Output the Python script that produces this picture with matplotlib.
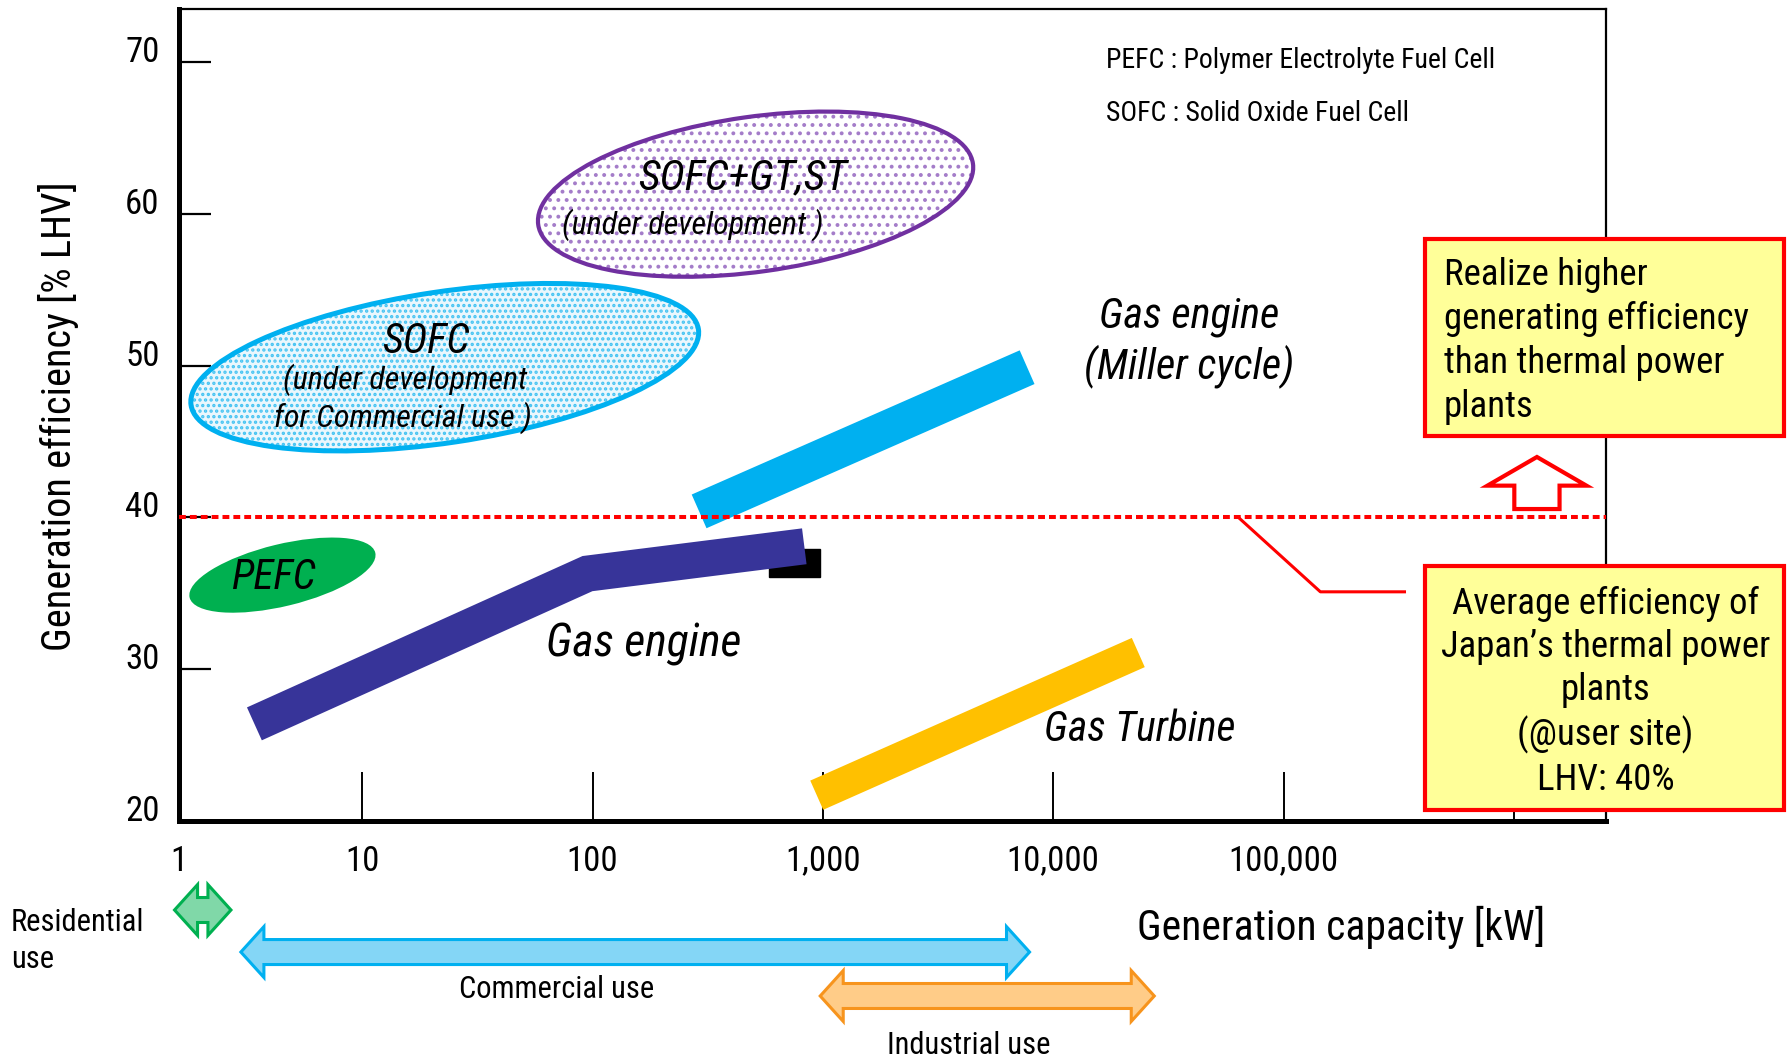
import numpy as np
import matplotlib
matplotlib.use("Agg")
import matplotlib.pyplot as plt
from matplotlib import transforms, font_manager
from matplotlib.patches import Ellipse, Rectangle, Polygon, FancyArrow
from matplotlib.ticker import FixedLocator, FixedFormatter, NullLocator

# look for a narrow sans face (the original uses Arial Narrow)
entries = font_manager.fontManager.ttflist
names = {f.name for f in entries}
family, stretch, narrow_ok = "Liberation Sans", "normal", False
for cand in ["Liberation Sans Narrow", "Arial Narrow", "Roboto Condensed",
             "Open Sans Condensed", "Noto Sans Condensed"]:
    if cand in names:
        family, narrow_ok = cand, True
        break
if not narrow_ok:
    for cand in ["Roboto", "Noto Sans", "Open Sans", "Liberation Sans", "DejaVu Sans"]:
        cond = [f for f in entries if f.name == cand and
                str(f.stretch) in ("condensed", "semi-condensed", "extra-condensed")]
        if cond:
            family, stretch, narrow_ok = cand, str(cond[0].stretch), True
            break
plt.rcParams["font.family"] = [family, "DejaVu Sans"]
plt.rcParams["font.stretch"] = stretch
plt.rcParams["hatch.linewidth"] = 1.6
k = 1.0 if narrow_ok else 0.86   # shrink sizes when only a normal-width face exists

# ---- data ----
x_min, x_max = 1.6, 10 ** 6.4          # generation capacity [kW]
y_min, y_max = 20, 73.5                # efficiency [% LHV]
x_ticks = [x_min, 10, 100, 1000, 10000, 100000, 1000000]
x_labels = ["1", "10", "100", "1,000", "10,000", "100,000", ""]
y_ticks = [20, 30, 40, 50, 60, 70]

gas_engine_kw = [3.4, 95, 830]
gas_engine_eff = [26.4, 36.3, 38.1]
miller_kw = [290, 7700]
miller_eff = [40.4, 49.9]
turbine_kw = [940, 23400]
turbine_eff = [21.7, 31.1]
tab_kw = [583, 973]          # black block at the end of the gas engine band
tab_eff = [36.1, 37.9]

fc_names = ["PEFC", "SOFC", "SOFC+GT,ST"]
fc_kw = [4.5, 22.8, 510]
fc_eff = [36.2, 49.9, 61.3]

thermal_avg = 40             # average efficiency of Japan's thermal plants
callout_kw = [63700, 144500, 335000]
callout_eff = [40, 35.1, 35.1]

uses = ["Residential\nuse", "Commercial use", "Industrial use"]
use_lo = [1.53, 2.97, 973]
use_hi = [2.69, 7890, 27460]

# ---- figure ----
fig = plt.figure(figsize=(17.88, 10.59), dpi=100)
ax = fig.add_axes([179 / 1788, 238 / 1059, 1427 / 1788, 812 / 1059])
ax.set_xscale("log")
ax.set_xlim(x_min, x_max)
ax.set_ylim(y_min, y_max)

ax.xaxis.set_major_locator(FixedLocator(x_ticks))
ax.xaxis.set_major_formatter(FixedFormatter(x_labels))
ax.xaxis.set_minor_locator(NullLocator())
ax.set_yticks(y_ticks)
ax.set_yticklabels([str(v) for v in y_ticks])
ax.tick_params(axis="x", direction="in", length=35, width=1.4, pad=17, labelsize=25 * k)
ax.tick_params(axis="y", direction="in", length=23, width=1.6, pad=14, labelsize=25 * k)
for lab in ax.get_yticklabels():
    lab.set_verticalalignment("baseline")

for side in ["left", "bottom"]:
    ax.spines[side].set_linewidth(3.6)
for side in ["top", "right"]:
    ax.spines[side].set_linewidth(1.6)

ax.set_xlabel("Generation capacity [kW]", fontsize=30 * k)
ax.xaxis.set_label_coords(0.8143, -0.1305)
ax.xaxis.label.set_va("center")
ax.set_ylabel("Generation efficiency [% LHV]", fontsize=29 * k)
ax.yaxis.set_label_coords(-0.0845, 0.4988)
ax.yaxis.label.set_va("center")

# ---- bands ----
band = dict(solid_capstyle="butt", solid_joinstyle="miter", zorder=3)
ax.add_patch(Rectangle((tab_kw[0], tab_eff[0]), tab_kw[1] - tab_kw[0],
                       tab_eff[1] - tab_eff[0], color="black", zorder=2.5))
ax.plot(gas_engine_kw, gas_engine_eff, color="#373499", lw=26, **band)
ax.plot(miller_kw, miller_eff, color="#00B0F0", lw=26.5, **band)
ax.plot(turbine_kw, turbine_eff, color="#FFC000", lw=23, **band)


# ellipses: centre in data coords, size in pixels
def px_ellipse(x, y, w, h, angle, **kw):
    tr = fig.dpi_scale_trans + transforms.ScaledTranslation(x, y, ax.transData)
    e = Ellipse((0, 0), w / fig.dpi, h / fig.dpi, angle=angle, transform=tr, **kw)
    ax.add_patch(e)


px_ellipse(fc_kw[0], fc_eff[0], 191, 62, 13.6, facecolor="#00B050", edgecolor="none", zorder=2)
px_ellipse(fc_kw[1], fc_eff[1], 513, 151, 8.5, facecolor="#EAF7FD", edgecolor="#45C3F2",
           lw=0, hatch="...", zorder=2)
px_ellipse(fc_kw[1], fc_eff[1], 513, 151, 8.5, facecolor="none", edgecolor="#00B0F0",
           lw=3.6, zorder=2.2)
px_ellipse(fc_kw[2], fc_eff[2], 439, 155, 8, facecolor="white", edgecolor="#A47CC9",
           lw=0, hatch="..", zorder=2)
px_ellipse(fc_kw[2], fc_eff[2], 439, 155, 8, facecolor="none", edgecolor="#7030A0",
           lw=3, zorder=2.2)

# ---- labels ----
it = dict(style="italic", ha="center", va="center", zorder=6)
ax.text(450, 62.39, "SOFC+GT,ST", fontsize=31 * k, **it)
ax.text(273, 59.29, "(under development )", fontsize=23 * k, **it)
ax.text(18.9, 51.58, "SOFC", fontsize=30 * k, **it)
ax.text(15.3, 49.07, "(under development", fontsize=23 * k, **it)
ax.text(15.0, 46.57, "for Commercial use )", fontsize=23 * k, **it)
ax.text(4.09, 36.02, "PEFC", fontsize=30 * k, **it)
ax.text(167, 31.67, "Gas engine", fontsize=33 * k, **it)
ax.text(38970, 51.58, "Gas engine\n(Miller cycle)", fontsize=30.5 * k, linespacing=1.2, **it)
ax.text(23760, 26.0, "Gas Turbine", fontsize=30 * k, **it)

ax.text(0.6493, 0.9363, "PEFC : Polymer Electrolyte Fuel Cell", transform=ax.transAxes,
        fontsize=20 * k, va="center")
ax.text(0.6493, 0.8707, "SOFC : Solid Oxide Fuel Cell", transform=ax.transAxes,
        fontsize=20 * k, va="center")

# ---- thermal average line and call-outs ----
ax.axhline(thermal_avg, color="red", lw=2.9, ls=(0, (1.7, 1.0)), zorder=4)
ax.plot(callout_kw, callout_eff, color="red", lw=2.2, zorder=4)
ax.add_patch(FancyArrow(0.9516, 0.3842, 0, 0.0641, width=0.0317, head_width=0.0694,
                        head_length=0.0353, length_includes_head=True,
                        transform=ax.transAxes, facecolor="white", edgecolor="red",
                        lw=3, zorder=5))

box_kw = dict(transform=fig.transFigure, facecolor="#FFFF99", edgecolor="red",
              lw=3, zorder=7, clip_on=False)
ax.add_patch(Rectangle((0.797, 0.5883), 0.2008, 0.186, **box_kw))
ax.add_patch(Rectangle((0.797, 0.2351), 0.2008, 0.2304, **box_kw))
fig.text(0.8076, 0.678, "Realize higher\ngenerating efficiency\nthan thermal power\nplants",
         fontsize=26.5 * k, ha="left", va="center", linespacing=1.29, zorder=8)
fig.text(0.8979, 0.347,
         "Average efficiency of\nJapan\u2019s thermal power\nplants\n(@user site)\nLHV: 40%",
         fontsize=26.5 * k, ha="center", va="center", linespacing=1.26, zorder=8)

# ---- use ranges below the axis ----
blend = transforms.blended_transform_factory(ax.transData, fig.transFigure)
use_y = [0.1407, 0.1010, 0.0595]
use_fc = ["#80D8A8", "#84D6F6", "#FFCC88"]
use_ec = ["#00B050", "#00B0F0", "#F7941D"]
head = 10 ** 0.1
for lo, hi, yc, fc, ec in zip(use_lo, use_hi, use_y, use_fc, use_ec):
    hh, sh = 0.0240, 0.0118
    xa, xb = lo * head, hi / head
    verts = [(lo, yc), (xa, yc + hh), (xa, yc + sh), (xb, yc + sh), (xb, yc + hh),
             (hi, yc), (xb, yc - hh), (xb, yc - sh), (xa, yc - sh), (xa, yc - hh)]
    ax.add_patch(Polygon(verts, closed=True, transform=blend, facecolor=fc,
                         edgecolor=ec, lw=2.2, clip_on=False, zorder=5))

fig.text(0.0062, 0.1114, uses[0], fontsize=22 * k, ha="left", va="center", linespacing=1.35)
fig.text(0.3115, 0.0652, uses[1], fontsize=22 * k, ha="center", va="center")
fig.text(0.5419, 0.0132, uses[2], fontsize=22 * k, ha="center", va="center")

fig.savefig("out.png", dpi=100)
